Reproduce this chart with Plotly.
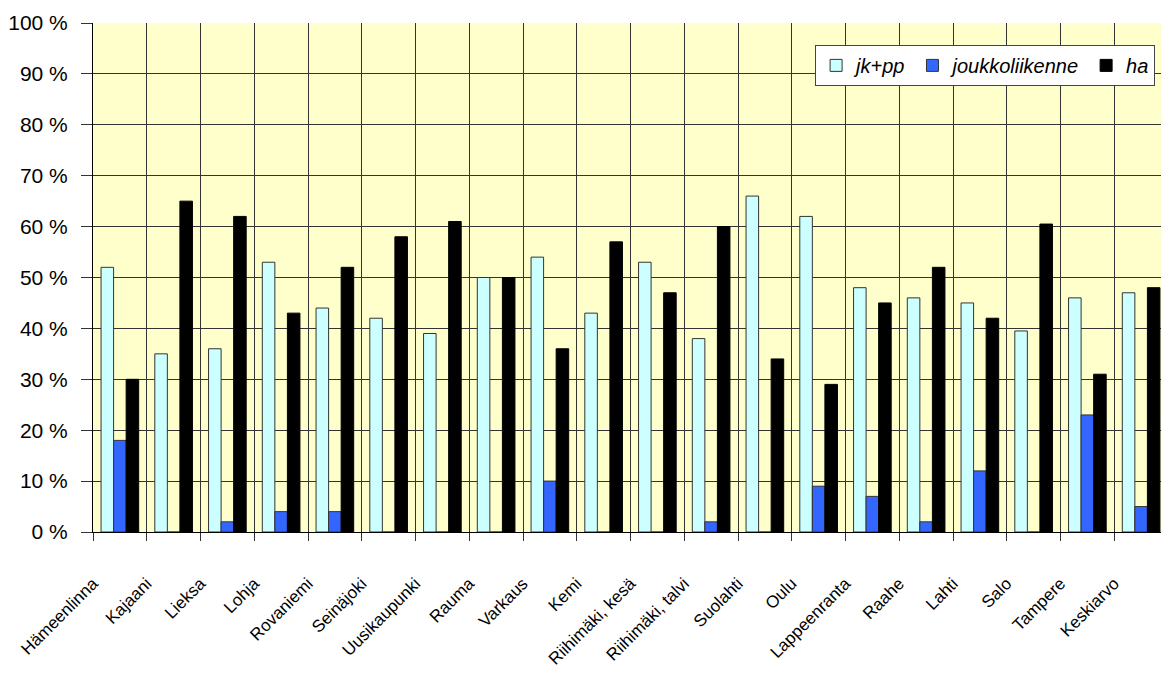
import plotly.graph_objects as go

categories = ["Hämeenlinna", "Kajaani", "Lieksa", "Lohja", "Rovaniemi", "Seinäjoki",
              "Uusikaupunki", "Rauma", "Varkaus", "Kemi", "Riihimäki, kesä",
              "Riihimäki, talvi", "Suolahti", "Oulu", "Lappeenranta", "Raahe",
              "Lahti", "Salo", "Tampere", "Keskiarvo"]
jk_pp = [52, 35, 36, 53, 44, 42, 39, 50, 54, 43, 53, 38, 66, 62, 48, 46, 45, 39.5, 46, 47]
joukkoliikenne = [18, 0, 2, 4, 4, 0, 0, 0, 10, 0, 0, 2, 0, 9, 7, 2, 12, 0, 23, 5]
ha = [30, 65, 62, 43, 52, 58, 61, 50, 36, 57, 47, 60, 34, 29, 45, 52, 42, 60.5, 31, 48]
y_ticks = list(range(0, 101, 10))
y_labels = [f"{v} %" for v in y_ticks]

fig = go.Figure()
fig.add_trace(go.Bar(x=categories, y=jk_pp, name="jk+pp",
                     marker=dict(color="#CCFFFF", line=dict(color="#333333", width=1))))
fig.add_trace(go.Bar(x=categories, y=joukkoliikenne, name="joukkoliikenne",
                     marker=dict(color="#3366FF", line=dict(color="#333333", width=1))))
fig.add_trace(go.Bar(x=categories, y=ha, name="ha",
                     marker=dict(color="#000000", line=dict(color="#000000", width=1))))

fig.update_layout(
    width=1169, height=674,
    margin=dict(l=85, r=9, t=15, b=150),
    paper_bgcolor="white",
    plot_bgcolor="#FFFFCC",
    barmode="group",
    bargap=0.3,
    bargroupgap=0,
    font=dict(family="Liberation Sans, Arial, sans-serif", color="black"),
    showlegend=True,
    legend=dict(
        orientation="h",
        x=0.988, xanchor="right", y=0.957, yanchor="top",
        bgcolor="white", bordercolor="#444444", borderwidth=1,
        font=dict(size=20, family="Liberation Sans, Arial, sans-serif", style="italic", color="black"),
        itemwidth=30,
        traceorder="normal",
    ),
)
fig.update_xaxes(
    type="category",
    tickson="boundaries",
    automargin=False,
    showgrid=True, gridcolor="#333333", gridwidth=1,
    ticks="outside", ticklen=8, tickcolor="#333333",
    tickangle=-45,
    ticklabelshift=-27,
    ticklabelstandoff=34,
    tickfont=dict(size=17, family="Liberation Sans Narrow, Liberation Sans, Arial, sans-serif"),
    showline=True, linecolor="black", linewidth=1,
    range=[-0.5, len(categories) - 0.5],
)
fig.update_yaxes(
    range=[0, 100],
    automargin=False,
    tickvals=y_ticks, ticktext=y_labels,
    showgrid=True, gridcolor="#333333", gridwidth=1,
    ticks="outside", ticklen=11, tickcolor="#333333",
    ticklabelstandoff=9,
    tickfont=dict(size=21),
    showline=True, linecolor="black", linewidth=1,
    zeroline=False,
)

fig.write_html("out.html")
